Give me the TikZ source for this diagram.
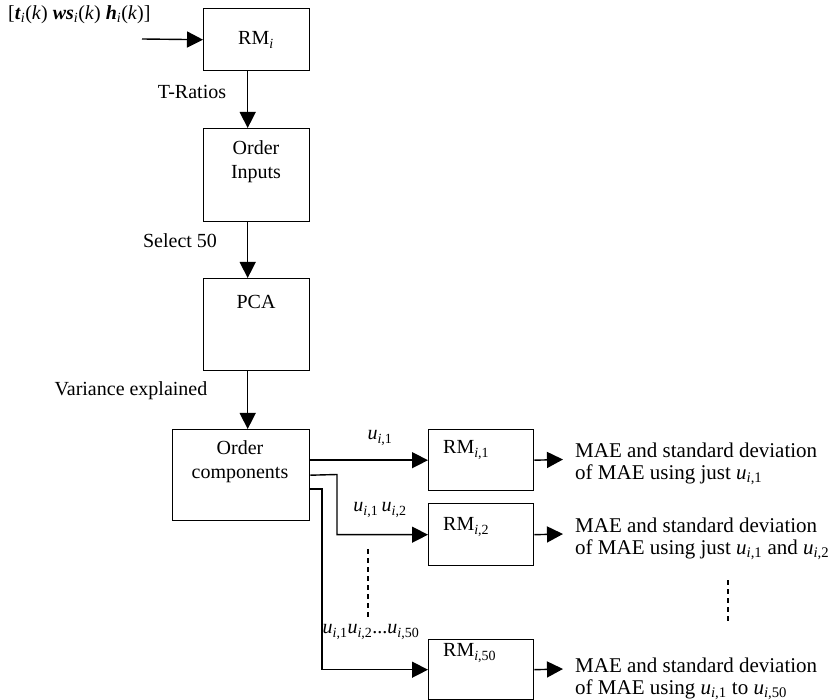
\documentclass[tikz,border=0pt]{standalone}
\usepackage{fontspec}
\setmainfont{Liberation Serif}
\usetikzlibrary{arrows.meta}
\newcommand{\ui}[1]{\textit{u}\textsubscript{\textit{i},#1}}
\begin{document}
\begin{tikzpicture}[x=1pt,y=-1pt,
  every node/.style={font=\fontsize{20}{24}\selectfont},
  boxnode/.style={draw, line width=1.4pt, anchor=north west, inner sep=0pt},
  lbl/.style={inner sep=0pt},
  outtxt/.style={inner sep=0pt, anchor=west, align=left, font=\fontsize{21}{21.5}\selectfont},
  arr/.style={line width=1.4pt, -{Triangle[length=16pt,width=16pt]}},
  dsh/.style={line width=1.4pt, dash pattern=on 5pt off 4pt}]
\useasboundingbox (0,0) rectangle (836,700);

% boxes
\node[boxnode, minimum width=106pt, minimum height=62pt] (RMi) at (203,8) {};
\node[boxnode, minimum width=106pt, minimum height=93pt] (OI) at (203,128) {};
\node[boxnode, minimum width=106pt, minimum height=92pt] (PCA) at (203,278) {};
\node[boxnode, minimum width=137pt, minimum height=91pt] (OC) at (172,429) {};
\node[boxnode, minimum width=105pt, minimum height=61pt] (R1) at (428,429) {};
\node[boxnode, minimum width=105pt, minimum height=62pt] (R2) at (428,503) {};
\node[boxnode, minimum width=105pt, minimum height=60pt] (R50) at (428,639) {};

% box texts
\node[lbl] (tRMi) at (256,40) {RM\textsubscript{\textit{i}}};
\node[lbl, align=center] (tOI) at (256,162) {Order\\Inputs};
\node[lbl] (tPCA) at (256,302) {PCA};
\node[lbl, align=center] (tOC) at (240,462) {Order\\components};
\node[lbl, anchor=west] (tR1) at (443,450) {RM\textsubscript{\textit{i},1}};
\node[lbl, anchor=west] (tR2) at (443,527) {RM\textsubscript{\textit{i},2}};
\node[lbl, anchor=west] (tR50) at (443,653) {RM\textsubscript{\textit{i},50}};

% labels
\node[lbl, anchor=west] (inlbl) at (8,15) {[\textbf{\textit{t}}\textsubscript{\textit{i}}(\textit{k}) \textbf{\textit{ws}}\textsubscript{\textit{i}}(\textit{k}) \textbf{\textit{h}}\textsubscript{\textit{i}}(\textit{k})]};
\node[lbl] (ltr) at (192,92) {T-Ratios};
\node[lbl] (lsel) at (180,241) {Select 50};
\node[lbl] (lvar) at (131,391) {Variance explained};
\node[lbl] (lu1) at (380,438) {\ui{1}};
\node[lbl] (lu2) at (380,510) {\ui{1}\,\ui{2}};
\node[lbl] (lu50) at (371,632) {\ui{1}\ui{2}...\ui{50}};

% main chain
\coordinate (in) at (142,39);
\draw[arr] (in) -- (RMi.west);
\draw[arr] ([xshift=-9pt]RMi.south) -- ([xshift=-9pt]OI.north);
\draw[arr] ([xshift=-9pt]OI.south) -- ([xshift=-9pt]PCA.north);
\draw[arr] ([xshift=-9pt]PCA.south) -- ([xshift=-9pt]PCA.south |- OC.north);

% branches
\coordinate (b2) at (337,474.5);
\coordinate (b3) at (322,489);
\draw[arr] (OC.east |- R1.west) -- (R1.west);
\draw[arr] (OC.east) -- (b2) |- (R2.west);
\draw[arr] (OC.east |- b3) -- (b3) |- (R50.west);

% outputs
\coordinate (o1) at (563,459.5);
\coordinate (o2) at (563,534);
\coordinate (o3) at (563,669);
\draw[arr] (R1.east) -- (o1);
\draw[arr] (R2.east) -- (o2);
\draw[arr] (R50.east) -- (o3);

\node[outtxt] (out1) at (575,464) {MAE and standard deviation\\of MAE using just \ui{1}};
\node[outtxt] (out2) at (575,539) {MAE and standard deviation\\of MAE using just \ui{1} and \ui{2}};
\node[outtxt] (out3) at (575,679) {MAE and standard deviation\\of MAE using \ui{1} to \ui{50}};

% dashed continuation marks
\coordinate (d1a) at (368,549);
\coordinate (d1b) at (368,620);
\coordinate (d2a) at (728,580);
\coordinate (d2b) at (728,623);
\draw[dsh] (d1a) -- (d1b);
\draw[dsh] (d2a) -- (d2b);
\end{tikzpicture}
\end{document}
